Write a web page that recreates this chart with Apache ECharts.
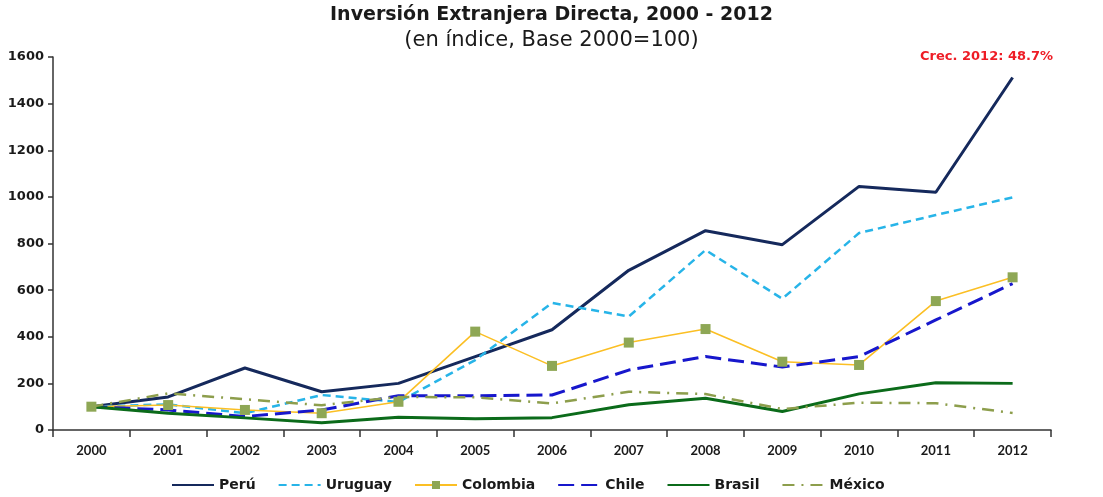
<!DOCTYPE html>
<html>
<head>
<meta charset="UTF-8">
<title>Inversión Extranjera Directa</title>
<script src="https://cdn.jsdelivr.net/npm/echarts@6/dist/echarts.min.js"></script>
<style>
    html,body{margin:0;padding:0;background:#fff;}
    #main{width:1103px;height:497px;}
</style>
</head>
<body>
<div id="main"></div>
<script type="text/javascript">
    var years = ['2000','2001','2002','2003','2004','2005','2006','2007','2008','2009','2010','2011','2012'];
    var peru     = [100, 142, 266, 164, 200, 315, 430, 685, 855, 795, 1045, 1020, 1512];
    var uruguay  = [100, 110, 72, 150, 120, 300, 545, 487, 772, 563, 845, 922, 998];
    var colombia = [100, 107, 86, 72, 121, 422, 275, 375, 433, 293, 279, 553, 655];
    var chile    = [100, 86, 58, 86, 147, 147, 150, 257, 315, 270, 315, 472, 628];
    var brasil   = [100, 72, 52, 31, 55, 48, 53, 108, 136, 79, 155, 203, 200];
    var mexico   = [100, 157, 132, 106, 142, 140, 114, 164, 154, 90, 117, 115, 73];

    var fontF = '"DejaVu Sans", sans-serif';
    var myChart = echarts.init(document.getElementById('main'));

    function lineSeries(name, data, color, width, dash, extra){
        var s = {
            name: name,
            type: 'line',
            data: data,
            symbol: 'none',
            lineStyle: {color: color, width: width, type: dash},
            itemStyle: {color: color},
            emphasis: {disabled: true}
        };
        if(extra){ for(var k in extra){ s[k] = extra[k]; } }
        return s;
    }

    var option = {
        backgroundColor: '#fff',
        animation: false,
        title: [
            {
                text: 'Inversión Extranjera Directa, 2000 - 2012',
                left: 'center', top: 1,
                padding: [5, 54, 5, 5],
                textStyle: {fontFamily: fontF, fontSize: 19, fontWeight: 'bold', color: '#1a1a1a'}
            },
            {
                text: '(en índice, Base 2000=100)',
                left: 'center', top: 25,
                padding: [5, 54, 5, 5],
                textStyle: {fontFamily: fontF, fontSize: 21, fontWeight: 'normal', color: '#1a1a1a'}
            },
            {
                text: 'Crec. 2012: 48.7%',
                right: 45, top: 45,
                textStyle: {fontFamily: fontF, fontSize: 13, fontWeight: 'bold', color: '#ee1c25'}
            }
        ],
        legend: {
            bottom: 0,
            left: 166,
            itemWidth: 42,
            itemHeight: 10,
            itemGap: 22,
            itemStyle: {opacity: 0},
            textStyle: {fontFamily: fontF, fontSize: 14, fontWeight: 'bold', color: '#1a1a1a'},
            data: ['Perú', 'Uruguay', {name: 'Colombia', itemStyle: {opacity: 1}}, 'Chile', 'Brasil', 'México']
        },
        grid: {left: 53, right: 52, top: 57, bottom: 67},
        xAxis: {
            type: 'category',
            data: years,
            boundaryGap: true,
            axisLine: {lineStyle: {color: '#333', width: 1.5}},
            axisTick: {show: true, length: 7, lineStyle: {color: '#333', width: 1.5}},
            axisLabel: {fontFamily: 'Lato, sans-serif', fontSize: 13, fontWeight: 'bold', color: '#1a1a1a', margin: 14},
            splitLine: {show: false}
        },
        yAxis: {
            type: 'value',
            min: 0, max: 1600, interval: 200,
            axisLine: {show: true, lineStyle: {color: '#333', width: 1.5}},
            axisTick: {show: true, length: 5, lineStyle: {color: '#333', width: 1.5}},
            axisLabel: {
                fontFamily: fontF, fontSize: 13, fontWeight: 'bold', color: '#1a1a1a', margin: 9,
                formatter: function(v){ return String(v); }
            },
            splitLine: {show: false}
        },
        series: [
            lineSeries('Perú', peru, '#15295c', 3, 'solid'),
            lineSeries('Uruguay', uruguay, '#27b4e8', 2.5, [8, 5]),
            lineSeries('Colombia', colombia, '#fbbf24', 1.6, 'solid', {
                symbol: 'rect', symbolSize: 10, showSymbol: true,
                itemStyle: {color: '#8ea755'}
            }),
            lineSeries('Chile', chile, '#1717cc', 3, [16, 7]),
            lineSeries('Brasil', brasil, '#0b6b1a', 3, 'solid'),
            lineSeries('México', mexico, '#8d9e4c', 2.5, [12, 7, 2, 7])
        ]
    };
    myChart.setOption(option);
</script>
</body>
</html>
